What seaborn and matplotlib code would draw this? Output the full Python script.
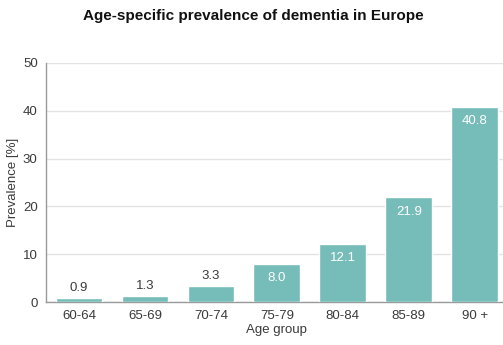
import matplotlib
matplotlib.use("Agg")
import matplotlib.pyplot as plt
import seaborn as sns
import pandas as pd

age_groups = ["60-64", "65-69", "70-74", "75-79", "80-84", "85-89", "90 +"]
prevalence = [0.9, 1.3, 3.3, 8.0, 12.1, 21.9, 40.8]
y_ticks = [0, 10, 20, 30, 40, 50]

bar_color = "#76bcb8"
text_color = "#3a3a3a"

sns.set_theme(style="white")
plt.rcParams["font.family"] = ["Liberation Sans", "DejaVu Sans"]

df = pd.DataFrame({"Age group": age_groups, "Prevalence": prevalence})

fig = plt.figure(figsize=(5.03, 3.45), dpi=100)
ax = fig.add_axes([0.0915, 0.1246, 0.918, 0.693])

sns.barplot(data=df, x="Age group", y="Prevalence", color=bar_color,
            width=0.71, saturation=1, ax=ax, zorder=3)

ax.set_ylim(0, 50)
ax.set_xlim(-0.5, 6.5)
ax.set_yticks(y_ticks)
ax.yaxis.grid(True, color="#e3e3e3", linewidth=1, zorder=0)
ax.set_axisbelow(True)

for s in ["top", "right"]:
    ax.spines[s].set_visible(False)
for s in ["left", "bottom"]:
    ax.spines[s].set_color("#9a9a9a")
    ax.spines[s].set_linewidth(1)

ax.tick_params(axis="both", labelsize=9.5, colors=text_color, length=0, pad=6)
ax.set_xlabel("Age group", fontsize=9.5, color=text_color, labelpad=1)
ax.set_ylabel("Prevalence [%]", fontsize=9.5, color=text_color, labelpad=3)

for i, v in enumerate(prevalence):
    if v < 5:
        ax.annotate(f"{v:.1f}", (i, v), xytext=(0, 3), textcoords="offset points",
                    ha="center", va="bottom", fontsize=9.5, color=text_color)
    else:
        ax.annotate(f"{v:.1f}", (i, v), xytext=(0, -6), textcoords="offset points",
                    ha="center", va="top", fontsize=9.5, color="white")

fig.suptitle("Age-specific prevalence of dementia in Europe", x=0.503, y=0.975,
             fontsize=11, fontweight="bold", color="#111111")

fig.savefig("out.png", dpi=100, facecolor="white")
